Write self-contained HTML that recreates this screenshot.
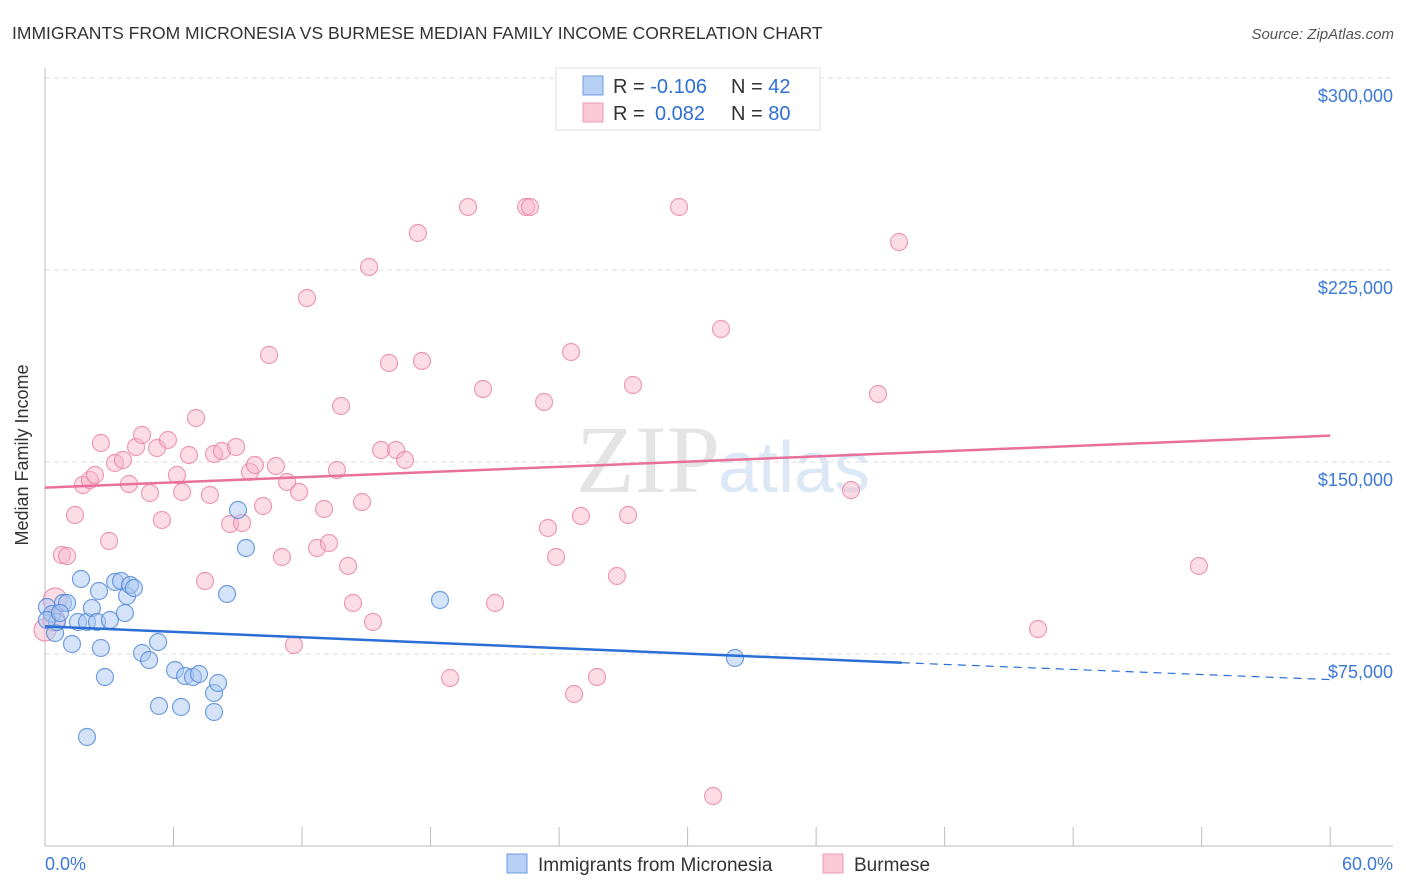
<!DOCTYPE html>
<html><head><meta charset="utf-8"><style>
body{margin:0;background:#fff;font-family:"Liberation Sans",sans-serif;}
svg{display:block}
</style></head><body>
<svg id="chart" width="1406" height="892">
<text x="12" y="39" font-size="17.5" fill="#333">IMMIGRANTS FROM MICRONESIA VS BURMESE MEDIAN FAMILY INCOME CORRELATION CHART</text>
<text x="1394" y="39" font-size="15" fill="#555" font-style="italic" text-anchor="end">Source: ZipAtlas.com</text>
<text x="28" y="455" font-size="18" fill="#333" transform="rotate(-90 28 455)" text-anchor="middle">Median Family Income</text>
<text x="720" y="492" font-size="96" fill="#e4e4e4" text-anchor="end" font-family="Liberation Serif">ZIP</text>
<text x="718" y="492" font-size="72" fill="#dde8f6">atlas</text>
<g id="grid"></g><g id="pts"></g><g id="lines"></g>
<g>
<rect x="556" y="68" width="264" height="62" fill="#fff" stroke="#ddd"/>
<rect x="583" y="76" width="20" height="19" fill="#b8d0f4" stroke="#6b9be0"/>
<rect x="583" y="103" width="20" height="19" fill="#fcc8d6" stroke="#ec9ab3"/>
<text x="613" y="93" font-size="20" fill="#333">R = <tspan fill="#2f6fd6">-0.106</tspan><tspan x="731">N = </tspan><tspan fill="#2f6fd6">42</tspan></text>
<text x="613" y="120" font-size="20" fill="#333">R = <tspan fill="#2f6fd6" x="655">0.082</tspan><tspan x="731">N = </tspan><tspan fill="#2f6fd6">80</tspan></text>
</g>
<g>
<rect x="507" y="854" width="20" height="19" fill="#b8d0f4" stroke="#6b9be0"/>
<text x="538" y="871" font-size="19" fill="#333">Immigrants from Micronesia</text>
<rect x="823" y="854" width="20" height="19" fill="#fcc8d6" stroke="#ec9ab3"/>
<text x="854" y="871" font-size="19" fill="#333">Burmese</text>
</g>
<text x="45" y="870" font-size="18" fill="#3b78d8">0.0%</text>
<text x="1393" y="870" font-size="18" fill="#3b78d8" text-anchor="end">60.0%</text>
</svg>
<script>
const yTicks=[75000,150000,225000,300000];
const yTickLabels=["$75,000","$150,000","$225,000","$300,000"];
const xTicks=[0,6,12,18,24,30,36,42,48,54,60];
const bluePx=[[47,607],[52,614],[55,633],[57,622],[63,603],[67,603],[72,644],[78,622],[81,579],[87,622],[87,737],[92,608],[97,622],[99,591],[101,648],[105,677],[110,620],[115,582],[121,581],[125,613],[127,596],[130,585],[134,588],[142,653],[149,660],[158,642],[159,706],[175,670],[181,707],[185,676],[193,677],[199,674],[214,693],[214,712],[218,683],[227,594],[238,510],[246,548],[440,600],[735,658],[47,620],[60,613]];
const pinkPx=[[55,600],[62,555],[67,556],[75,515],[83,485],[90,480],[95,475],[101,443],[109,541],[115,463],[123,460],[129,484],[136,447],[142,435],[150,493],[157,448],[162,520],[168,440],[177,475],[182,492],[189,455],[196,418],[205,581],[210,495],[214,454],[222,451],[230,524],[236,447],[242,523],[250,472],[255,465],[263,506],[269,355],[276,466],[282,557],[287,482],[294,645],[299,492],[307,298],[317,548],[324,509],[329,543],[337,470],[341,406],[348,566],[353,603],[362,502],[369,267],[373,622],[381,450],[389,363],[396,450],[405,460],[418,233],[422,361],[450,678],[468,207],[483,389],[495,603],[526,207],[530,207],[544,402],[548,528],[556,557],[571,352],[574,694],[581,516],[597,677],[617,576],[628,515],[633,385],[679,207],[713,796],[721,329],[851,490],[878,394],[899,242],[1038,629],[1199,566],[45,630],[54,620]];
// data values (x in %, y in $) derived from the picture
const blueX=bluePx.map(p=>+((p[0]-45)/21.42).toFixed(2));
const blueY=bluePx.map(p=>Math.round(75000+(654-p[1])*390.625));
const pinkX=pinkPx.map(p=>+((p[0]-45)/21.42).toFixed(2));
const pinkY=pinkPx.map(p=>Math.round(75000+(654-p[1])*390.625));
const blueTrend=[[0,85800],[40,71600],[60,65000]];
const pinkTrend=[[0,140000],[60,160300]];
const X=v=>45+v*21.42;
const Y=v=>654-(v-75000)*192/75000;
const NS="http://www.w3.org/2000/svg";
function mk(tag,attrs,parent){const e=document.createElementNS(NS,tag);for(const k in attrs)e.setAttribute(k,attrs[k]);parent.appendChild(e);return e;}
const grid=document.getElementById('grid');
yTicks.forEach((t,i)=>{
 const l=mk('line',{x1:45,x2:1393,y1:Y(t),y2:Y(t),stroke:'#ddd','stroke-dasharray':'5,4'},grid);
 
 
 const tx=mk('text',{x:1393,y:Y(t)+24,'font-size':18,fill:'#3b78d8','text-anchor':'end'},grid);
 tx.textContent=yTickLabels[i];
 
 
});
const ax=mk('line',{x1:45,x2:45,y1:68,y2:846,stroke:'#bbb'},grid);


const bx=mk('line',{x1:45,x2:1393,y1:846,y2:846,stroke:'#bbb'},grid);


xTicks.forEach(t=>{const l=mk('line',{x1:X(t),x2:X(t),y1:827,y2:846,stroke:'#bbb'},grid);
 
 });
const pts=document.getElementById('pts');
pinkX.forEach((x,i)=>{const big=(i>=pinkX.length-2||i==0);const c=mk('circle',{cx:X(x),cy:Y(pinkY[i]),r:big?(i==0?12:11):8.5,fill:'rgba(248,180,200,0.45)',stroke:'rgba(232,130,165,0.8)','stroke-width':1.2},pts);
 
 });
blueX.forEach((x,i)=>{const c=mk('circle',{cx:X(x),cy:Y(blueY[i]),r:8.5,fill:'rgba(170,200,242,0.5)',stroke:'rgba(80,135,215,0.8)','stroke-width':1.2},pts);
 
 });
const lines=document.getElementById('lines');
const b1=mk('line',{x1:X(blueTrend[0][0]),y1:Y(blueTrend[0][1]),x2:X(blueTrend[1][0]),y2:Y(blueTrend[1][1]),stroke:'#2a6fd6','stroke-width':2.5},lines);


const b2=mk('line',{x1:X(blueTrend[1][0]),y1:Y(blueTrend[1][1]),x2:X(blueTrend[2][0]),y2:Y(blueTrend[2][1]),stroke:'#2a6fd6','stroke-width':1.2,'stroke-dasharray':'8,6'},lines);


const p1=mk('line',{x1:X(pinkTrend[0][0]),y1:Y(pinkTrend[0][1]),x2:X(pinkTrend[1][0]),y2:Y(pinkTrend[1][1]),stroke:'#e8709a','stroke-width':2.5},lines);


</script>
</body></html>
